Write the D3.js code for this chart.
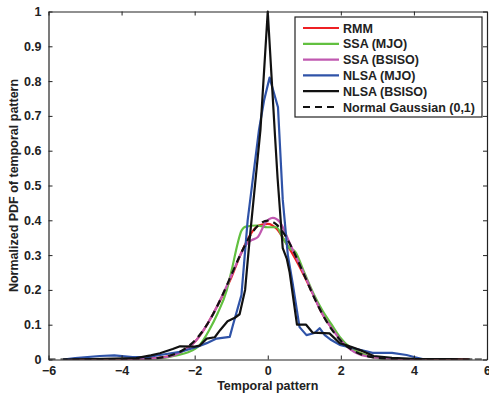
<!DOCTYPE html>
<html>
<head>
<meta charset="utf-8">
<title>PDF of temporal pattern</title>
<script src="https://cdn.jsdelivr.net/npm/d3@7"></script>
<style>
  body { margin: 0; background: #fff; }
  text { font-family: "Liberation Sans", Arial, sans-serif; font-weight: bold; fill: #222; }
</style>
</head>
<body>
<script>
  let width = 489;
  let height = 393;
  let margin = {left: 48.5, right: 2, top: 11.5, bottom: 33.5};

  // values
  let rmmX = [-5.5, -4, -3.5, -3, -2.5, -2.25, -2, -1.75, -1.5, -1.25, -1, -0.75, -0.5, -0.25, 0, 0.25, 0.5, 0.75, 1, 1.25, 1.5, 1.75, 2, 2.25, 2.5, 2.75, 3, 3.5, 4, 5.5];
  let rmmY = [0, 0.001, 0.002, 0.005, 0.016, 0.03, 0.05, 0.085, 0.13, 0.18, 0.235, 0.3, 0.355, 0.385, 0.39, 0.375, 0.335, 0.29, 0.24, 0.185, 0.13, 0.09, 0.057, 0.035, 0.02, 0.01, 0.005, 0.002, 0.001, 0];

  let ssaMjoX = [-3.2, -2.8, -2.5, -2.2, -1.86, -1.6, -1.37, -1.12, -0.98, -0.82, -0.72, -0.6, -0.3, 0, 0.24, 0.41, 0.6, 0.75, 1, 1.25, 1.5, 1.75, 1.97, 2.25, 2.5, 2.75, 3, 3.5];
  let ssaMjoY = [0, 0.005, 0.012, 0.02, 0.042, 0.085, 0.133, 0.2, 0.26, 0.335, 0.37, 0.382, 0.385, 0.38, 0.38, 0.35, 0.32, 0.31, 0.25, 0.19, 0.14, 0.1, 0.065, 0.035, 0.02, 0.01, 0.004, 0];

  let ssaBsisoX = [-4, -3, -2.5, -2, -1.5, -1, -0.75, -0.55, -0.44, -0.27, -0.08, 0.14, 0.33, 0.6, 0.75, 1, 1.25, 1.5, 1.75, 2, 2.25, 2.5, 3, 3.5, 4];
  let ssaBsisoY = [0, 0.004, 0.015, 0.05, 0.13, 0.24, 0.3, 0.335, 0.343, 0.352, 0.39, 0.407, 0.395, 0.335, 0.3, 0.245, 0.185, 0.13, 0.09, 0.055, 0.03, 0.015, 0.005, 0.001, 0];

  let nlsaMjoX = [-5.6, -5.27, -4.6, -4.2, -3.7, -3.3, -2.95, -2.4, -1.94, -1.67, -1.4, -1.04, -0.95, -0.72, -0.55, -0.24, -0.1, 0.05, 0.28, 0.41, 0.55, 0.68, 0.87, 1.06, 1.28, 1.42, 1.56, 1.74, 1.97, 2.32, 2.87, 3.4, 3.8, 4, 4.3];
  let nlsaMjoY = [0, 0.004, 0.01, 0.012, 0.007, 0.007, 0.013, 0.022, 0.036, 0.047, 0.06, 0.065, 0.1, 0.185, 0.4, 0.66, 0.745, 0.81, 0.725, 0.46, 0.3, 0.22, 0.093, 0.07, 0.076, 0.09, 0.07, 0.056, 0.042, 0.033, 0.019, 0.019, 0.013, 0.007, 0];

  let nlsaBsisoX = [-5.6, -4.5, -3.6, -3.2, -2.95, -2.6, -2.4, -2, -1.86, -1.67, -1.45, -1.3, -1.1, -0.9, -0.77, -0.62, -0.5, -0.2, 0, 0.2, 0.27, 0.41, 0.52, 0.6, 0.8, 1.05, 1.23, 1.69, 1.97, 2.3, 2.6, 2.9, 3.4, 4, 5, 5.6];
  let nlsaBsisoY = [0, 0.002, 0.004, 0.012, 0.018, 0.03, 0.038, 0.037, 0.04, 0.06, 0.064, 0.085, 0.11, 0.12, 0.13, 0.2, 0.34, 0.66, 1.0, 0.64, 0.52, 0.32, 0.29, 0.25, 0.1, 0.1, 0.077, 0.075, 0.047, 0.036, 0.024, 0.01, 0.005, 0.002, 0.001, 0];

  let gaussX = [-6, -4, -3.75, -3.5, -3.25, -3, -2.75, -2.5, -2.25, -2, -1.75, -1.5, -1.25, -1, -0.75, -0.5, -0.25, 0, 0.25, 0.5, 0.75, 1, 1.25, 1.5, 1.75, 2, 2.25, 2.5, 2.75, 3, 3.25, 3.5, 3.75, 4, 6];
  let gaussY = [0, 0.0001, 0.0004, 0.0009, 0.002, 0.0044, 0.0091, 0.0175, 0.0317, 0.054, 0.0863, 0.1295, 0.1826, 0.242, 0.3011, 0.3521, 0.3867, 0.3989, 0.3867, 0.3521, 0.3011, 0.242, 0.1826, 0.1295, 0.0863, 0.054, 0.0317, 0.0175, 0.0091, 0.0044, 0.002, 0.0009, 0.0004, 0.0001, 0];

  let seriesNames = ['RMM', 'SSA (MJO)', 'SSA (BSISO)', 'NLSA (MJO)', 'NLSA (BSISO)', 'Normal Gaussian (0,1)'];
  let seriesX = [rmmX, ssaMjoX, ssaBsisoX, nlsaMjoX, nlsaBsisoX, gaussX];
  let seriesY = [rmmY, ssaMjoY, ssaBsisoY, nlsaMjoY, nlsaBsisoY, gaussY];
  let colors = ['#ee2024', '#62c040', '#c058b0', '#2f53a8', '#111111', '#111111'];
  let smooth = [true, true, true, false, false, true];

  let xTicks = [-6, -4, -2, 0, 2, 4, 6];
  let yTicks = [0, 0.1, 0.2, 0.3, 0.4, 0.5, 0.6, 0.7, 0.8, 0.9, 1];

  let svg = d3.select('body').append('svg')
    .attr('width', width)
    .attr('height', height);

  let x = d3.scaleLinear().domain([-6, 6]).range([margin.left, width - margin.right]);
  let y = d3.scaleLinear().domain([0, 1]).range([height - margin.bottom, margin.top]);

  svg.append('clipPath').attr('id', 'clip')
    .append('rect')
    .attr('x', margin.left).attr('y', margin.top - 2)
    .attr('width', width - margin.left - margin.right)
    .attr('height', height - margin.top - margin.bottom + 2);

  let plot = svg.append('g').attr('clip-path', 'url(#clip)');

  seriesNames.forEach(function (name, i) {
    let pts = seriesX[i].map(function (v, j) { return [v, seriesY[i][j]]; });
    let line = d3.line()
      .x(function (d) { return x(d[0]); })
      .y(function (d) { return y(d[1]); })
      .curve(smooth[i] ? d3.curveMonotoneX : d3.curveLinear);
    plot.append('path')
      .datum(pts)
      .attr('d', line)
      .attr('fill', 'none')
      .attr('stroke', colors[i])
      .attr('stroke-width', 2.2)
      .attr('stroke-linejoin', 'round')
      .attr('stroke-dasharray', i == 5 ? '7,5' : null);
  });

  // axes, MATLAB style: ticks pointing inward on all four sides
  let axBottom = svg.append('g')
    .attr('transform', `translate(0, ${height - margin.bottom})`)
    .call(d3.axisBottom(x).tickValues(xTicks).tickSizeInner(-4).tickSizeOuter(0).tickPadding(6.5)
      .tickFormat(function (d) { return d < 0 ? '\u2212' + Math.abs(d) : d; }));
  let axTop = svg.append('g')
    .attr('transform', `translate(0, ${margin.top})`)
    .call(d3.axisTop(x).tickValues(xTicks).tickSizeInner(-4).tickSizeOuter(0).tickFormat(''));
  let axLeft = svg.append('g')
    .attr('transform', `translate(${margin.left}, 0)`)
    .call(d3.axisLeft(y).tickValues(yTicks).tickSizeInner(-4).tickSizeOuter(0).tickPadding(7)
      .tickFormat(function (d) { return d; }));
  let axRight = svg.append('g')
    .attr('transform', `translate(${width - margin.right}, 0)`)
    .call(d3.axisRight(y).tickValues(yTicks).tickSizeInner(-4).tickSizeOuter(0).tickFormat(''));

  svg.selectAll('.domain').attr('stroke', '#222').attr('stroke-width', 1.2);
  svg.selectAll('.tick line').attr('stroke', '#222');
  svg.selectAll('.tick text').style('font-size', '12.5px').attr('fill', '#222');

  svg.append('text')
    .attr('x', x(0))
    .attr('y', 390)
    .attr('text-anchor', 'middle')
    .style('font-size', '12.5px')
    .text('Temporal pattern');

  svg.append('text')
    .attr('transform', `translate(18, ${y(0.5)}) rotate(-90)`)
    .attr('text-anchor', 'middle')
    .style('font-size', '12.5px')
    .text('Normalized PDF of temporal pattern');

  // legend
  let lg = svg.append('g').attr('transform', 'translate(295, 17)');
  lg.append('rect')
    .attr('width', 187).attr('height', 100)
    .attr('fill', '#fff').attr('stroke', '#222').attr('stroke-width', 1.2);
  seriesNames.forEach(function (name, i) {
    let ly = 11 + i * 15.8;
    lg.append('line')
      .attr('x1', 8).attr('x2', 44)
      .attr('y1', ly).attr('y2', ly)
      .attr('stroke', colors[i])
      .attr('stroke-width', 2.2)
      .attr('stroke-dasharray', i == 5 ? '7,5' : null);
    lg.append('text')
      .attr('x', 48).attr('y', ly + 4.5)
      .style('font-size', '12.5px')
      .text(name);
  });
</script>
</body>
</html>
